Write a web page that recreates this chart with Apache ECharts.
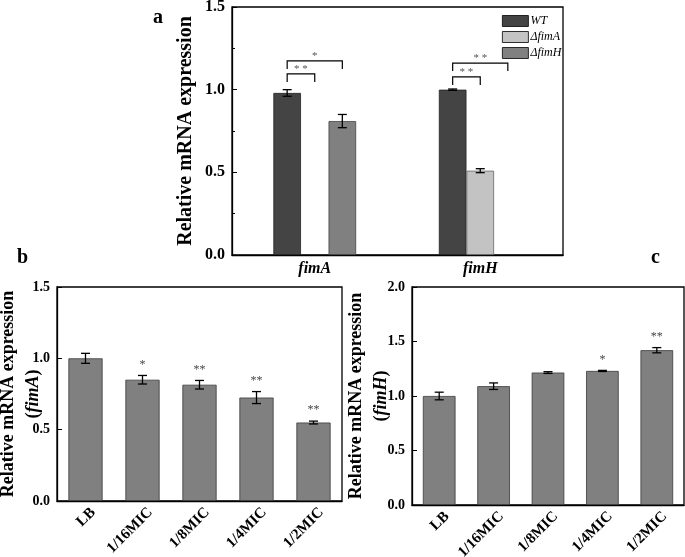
<!DOCTYPE html>
<html><head><meta charset="utf-8">
<script src="https://cdn.jsdelivr.net/npm/echarts@6/dist/echarts.min.js"></script>
<style>html,body{margin:0;padding:0;background:#fff}#c{width:685px;height:557px}</style>
</head><body><div id="c"></div>
<script>
// ---- Panel a data ----
const catsA = ['fimA', 'fimH'];
const seriesNamesA = ['WT', 'ΔfimA', 'ΔfimH'];
const wtVals = [0.98, 1.0];
const wtErr = [0.02, 0.004];
const dAVals = [null, 0.51];
const dAErr = [null, 0.012];
const dHVals = [0.81, null];
const dHErr = [0.04, null];
// brackets: [category, fromSlot, toSlot, yValue]
const bracketsA = [[0, 0, 1, 1.095], [0, 0, 2, 1.174], [1, 0, 1, 1.077], [1, 0, 2, 1.161]];
const bracketLabelsA = ['* *', '*', '* *', '* *'];

// ---- Panel b data ----
const catsB = ['LB', '1/16MIC', '1/8MIC', '1/4MIC', '1/2MIC'];
const valsB = [1.0, 0.85, 0.815, 0.725, 0.55];
const errB = [0.035, 0.03, 0.03, 0.042, 0.01];
const starsB = ['', '*', '**', '**', '**'];

// ---- Panel c data ----
const catsC = ['LB', '1/16MIC', '1/8MIC', '1/4MIC', '1/2MIC'];
const valsC = [1.0, 1.09, 1.215, 1.23, 1.42];
const errC = [0.035, 0.03, 0.008, 0.005, 0.024];
const starsC = ['', '', '', '*', '**'];

const SERIF = '"Liberation Serif", "Times New Roman", serif';
const colorsA = ['#444444', '#c3c3c3', '#808080'];

function errRender(slotIdx, nSlots, gapFrac) {
  return function (params, api) {
    const cat = api.value(0), v = api.value(1), e = api.value(2);
    const catW = api.size([1, 0])[0];
    const barW = catW * (1 - gapFrac) / nSlots;
    const off = (slotIdx - (nSlots - 1) / 2) * barW;
    const x = api.coord([cat, v])[0] + off;
    const yt = api.coord([cat, v + e])[1];
    const yb = api.coord([cat, v - e])[1];
    const hw = 4.5;
    const st = { stroke: '#000', lineWidth: 1.3 };
    return { type: 'group', children: [
      { type: 'line', shape: { x1: x, y1: yt, x2: x, y2: yb }, style: st },
      { type: 'line', shape: { x1: x - hw, y1: yt, x2: x + hw, y2: yt }, style: st },
      { type: 'line', shape: { x1: x - hw, y1: yb, x2: x + hw, y2: yb }, style: st }
    ]};
  };
}
function errData(vals, errs) {
  const out = [];
  vals.forEach((v, i) => { if (v != null) out.push([i, v, errs[i]]); });
  return out;
}
function starRender(labels) {
  return function (params, api) {
    const cat = api.value(0), v = api.value(1), e = api.value(2);
    const p = api.coord([cat, v + e]);
    return { type: 'text', style: { x: p[0], y: p[1] - 5, text: labels[params.dataIndex], fill: '#444', font: '12px ' + SERIF, textAlign: 'center', textVerticalAlign: 'bottom' } };
  };
}
function bracketRender(params, api) {
  const cat = api.value(0), s1 = api.value(1), s2 = api.value(2), yv = api.value(3);
  const catW = api.size([1, 0])[0];
  const barW = catW * 0.5 / 3;
  const cx = api.coord([cat, yv]);
  const x1 = cx[0] + (s1 - 1) * barW, x2 = cx[0] + (s2 - 1) * barW;
  const y = cx[1];
  const st = { stroke: '#000', lineWidth: 1.2, fill: null };
  return { type: 'group', children: [
    { type: 'polyline', shape: { points: [[x1, y + 8], [x1, y], [x2, y], [x2, y + 8]] }, style: st },
    { type: 'text', style: { x: (x1 + x2) / 2, y: y + 1, text: bracketLabelsA[params.dataIndex], fill: '#555', font: '11px ' + SERIF, textAlign: 'center', textVerticalAlign: 'bottom' } }
  ]};
}

const yAxisBase = (min, max, interval, fs, minor) => ({
  type: 'value', min, max, interval,
  nameMoveOverlap: false,
  axisLine: { show: true, lineStyle: { color: '#000', width: 1.3 } },
  axisTick: { show: true, inside: true, length: 5, lineStyle: { color: '#000' } },
  minorTick: { show: !!minor, splitNumber: 2, length: 3, lineStyle: { color: '#000' } },
  splitLine: { show: false },
  axisLabel: { color: '#000', fontFamily: SERIF, fontWeight: 'bold', fontSize: fs, margin: 7, formatter: v => v.toFixed(1) }
});
const richName = {
  n: { fontFamily: SERIF, fontWeight: 'bold', fontSize: 18, color: '#000', lineHeight: 25 },
  i: { fontFamily: SERIF, fontWeight: 'bold', fontStyle: 'italic', fontSize: 18, color: '#000', lineHeight: 25 }
};
const rotLabel = { color: '#000', fontFamily: SERIF, fontWeight: 'bold', fontSize: 15, rotate: 45, margin: 17, interval: 0, padding: [0, -11, 0, 0] };

const option = {
  animation: false,
  backgroundColor: '#fff',
  title: [
    { text: 'a', left: 148, top: 3, textStyle: { fontFamily: SERIF, fontWeight: 'bold', fontSize: 20, color: '#000' } },
    { text: 'b', left: 12, top: 243, textStyle: { fontFamily: SERIF, fontWeight: 'bold', fontSize: 20, color: '#000' } },
    { text: 'c', left: 646, top: 243, textStyle: { fontFamily: SERIF, fontWeight: 'bold', fontSize: 20, color: '#000' } }
  ],
  legend: {
    data: seriesNamesA, orient: 'vertical', left: 497, top: 10,
    itemWidth: 26, itemHeight: 11, itemGap: 4, icon: 'rect',
    textStyle: { fontFamily: SERIF, fontStyle: 'italic', fontSize: 12, color: '#000', padding: [0, 0, 0, -3] },
    itemStyle: { borderColor: '#000', borderWidth: 0.8 }
  },
  grid: [
    { left: 232, top: 7, width: 331, height: 248, show: true, borderColor: '#000', borderWidth: 1.3, outerBoundsMode: 'none' },
    { left: 57, top: 287, width: 285, height: 214, show: true, borderColor: '#000', borderWidth: 1.3, outerBoundsMode: 'none' },
    { left: 412, top: 287, width: 272, height: 218, show: true, borderColor: '#000', borderWidth: 1.3, outerBoundsMode: 'none' }
  ],
  xAxis: [
    { type: 'category', gridIndex: 0, data: catsA,
      axisLine: { lineStyle: { color: '#000', width: 1.3 } }, axisTick: { show: false },
      axisLabel: { color: '#000', fontFamily: SERIF, fontWeight: 'bold', fontStyle: 'italic', fontSize: 16, margin: 6 } },
    { type: 'category', gridIndex: 1, data: catsB,
      axisLine: { lineStyle: { color: '#000', width: 1.3 } }, axisTick: { show: false },
      axisLabel: rotLabel },
    { type: 'category', gridIndex: 2, data: catsC,
      axisLine: { lineStyle: { color: '#000', width: 1.3 } }, axisTick: { show: false },
      axisLabel: rotLabel }
  ],
  yAxis: [
    Object.assign(yAxisBase(0, 1.5, 0.5, 16, true), { gridIndex: 0,
      name: 'Relative mRNA expression', nameLocation: 'middle', nameGap: 36,
      nameTextStyle: { fontFamily: SERIF, fontWeight: 'bold', fontSize: 20, color: '#000' } }),
    Object.assign(yAxisBase(0, 1.5, 0.5, 14, false), { gridIndex: 1,
      name: '{n|Relative mRNA expression}\n{n|(}{i|fimA}{n|)}', nameLocation: 'middle', nameGap: 11,
      nameTextStyle: { rich: richName } }),
    Object.assign(yAxisBase(0, 2.0, 0.5, 14, false), { gridIndex: 2,
      name: '{n|Relative mRNA expression}\n{n|(}{i|fimH}{n|)}', nameLocation: 'middle', nameGap: 18,
      nameTextStyle: { rich: richName } })
  ],
  series: [
    { name: 'WT', type: 'bar', xAxisIndex: 0, yAxisIndex: 0, data: wtVals.map(v => v == null ? '-' : v), barGap: '0%', barCategoryGap: '50%',
      itemStyle: { color: colorsA[0], borderColor: '#222', borderWidth: 0.8 } },
    { name: 'ΔfimA', type: 'bar', xAxisIndex: 0, yAxisIndex: 0, data: dAVals.map(v => v == null ? '-' : v), barGap: '0%', barCategoryGap: '50%',
      itemStyle: { color: colorsA[1], borderColor: '#666', borderWidth: 0.8 } },
    { name: 'ΔfimH', type: 'bar', xAxisIndex: 0, yAxisIndex: 0, data: dHVals.map(v => v == null ? '-' : v), barGap: '0%', barCategoryGap: '50%',
      itemStyle: { color: colorsA[2], borderColor: '#444', borderWidth: 0.8 } },
    { type: 'custom', xAxisIndex: 0, yAxisIndex: 0, data: errData(wtVals, wtErr), renderItem: errRender(0, 3, 0.5), z: 5 },
    { type: 'custom', xAxisIndex: 0, yAxisIndex: 0, data: errData(dAVals, dAErr), renderItem: errRender(1, 3, 0.5), z: 5 },
    { type: 'custom', xAxisIndex: 0, yAxisIndex: 0, data: errData(dHVals, dHErr), renderItem: errRender(2, 3, 0.5), z: 5 },
    { type: 'custom', xAxisIndex: 0, yAxisIndex: 0, data: bracketsA, renderItem: bracketRender, z: 5 },

    { type: 'bar', xAxisIndex: 1, yAxisIndex: 1, data: valsB, barCategoryGap: '40%',
      itemStyle: { color: '#808080', borderColor: '#3a3a3a', borderWidth: 0.8 } },
    { type: 'custom', xAxisIndex: 1, yAxisIndex: 1, data: errData(valsB, errB), renderItem: errRender(0, 1, 0.4), z: 5 },
    { type: 'custom', xAxisIndex: 1, yAxisIndex: 1, data: errData(valsB, errB), renderItem: starRender(starsB), z: 5 },

    { type: 'bar', xAxisIndex: 2, yAxisIndex: 2, data: valsC, barCategoryGap: '40%',
      itemStyle: { color: '#808080', borderColor: '#3a3a3a', borderWidth: 0.8 } },
    { type: 'custom', xAxisIndex: 2, yAxisIndex: 2, data: errData(valsC, errC), renderItem: errRender(0, 1, 0.4), z: 5 },
    { type: 'custom', xAxisIndex: 2, yAxisIndex: 2, data: errData(valsC, errC), renderItem: starRender(starsC), z: 5 }
  ]
};
const chart = echarts.init(document.getElementById('c'), null, { renderer: 'canvas' });
chart.setOption(option);
</script>
</body></html>
